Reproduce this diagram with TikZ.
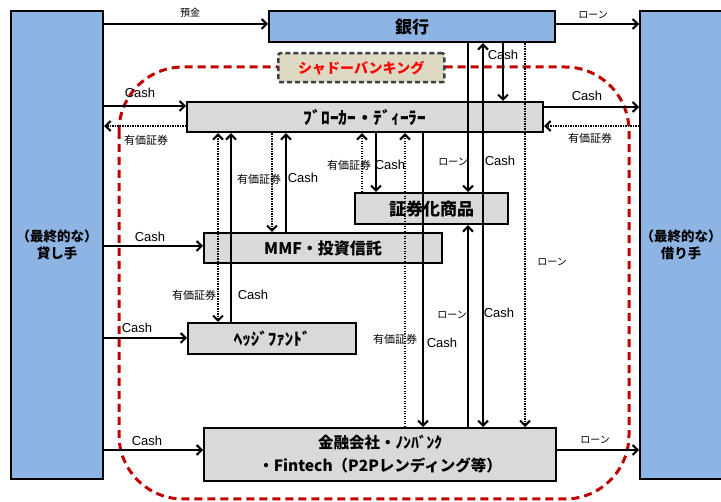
\documentclass[tikz,border=0pt]{standalone}
\usepackage{fontspec}
\setmainfont{Liberation Sans}
\newfontfamily\jp{Noto Sans CJK JP}
\usetikzlibrary{arrows.meta}
\definecolor{blu}{HTML}{8EB4E3}
\definecolor{gry}{HTML}{D9D9D9}
\definecolor{beige}{HTML}{DDD9C3}
\definecolor{dred}{HTML}{C00000}
\definecolor{dgray}{HTML}{404040}
\begin{document}
\begin{tikzpicture}[x=1pt,y=-1pt,
  bluebox/.style={draw=black, line width=2.2pt, fill=blu, anchor=north west, inner sep=0pt, align=center, font=\jp\bfseries\fontsize{13.5}{17}\selectfont},
  graybox/.style={draw=black, line width=2.2pt, fill=gry, anchor=north west, inner sep=0pt, align=center, font=\jp\bfseries\fontsize{16}{19}\selectfont},
  sol/.style={line width=2pt, -{Straight Barb[length=5pt,width=10pt]}},
  dot/.style={line width=2pt, dash pattern=on 1.4pt off 1.1pt, -{Straight Barb[length=5pt,width=10pt]}},
  lab/.style={font=\fontsize{13}{13}\selectfont, inner sep=0pt},
  jlab/.style={font=\jp\fontsize{11}{11}\selectfont, inner sep=0pt},
  jlabs/.style={font=\jp\fontsize{10}{10}\selectfont, inner sep=0pt}
]
\useasboundingbox (0,0) rectangle (721,502);
% shadow banking frame
\draw[dred, line width=3pt, dash pattern=on 8pt off 5pt, rounded corners=64pt] (119,67) rectangle (629,499);
\node[draw=dgray, line width=2.5pt, dash pattern=on 5pt off 3pt, rounded corners=2pt, fill=beige, anchor=north west, minimum width=166pt, minimum height=29pt, inner sep=0pt, text=red, font=\jp\bfseries\fontsize{14}{14}\selectfont] (sb) at (277,52) {シャドーバンキング};

% boxes
\node[bluebox, minimum width=92pt, minimum height=468pt] (lender) at (10,10) {（最終的な）\\貸し手};
\node[bluebox, minimum width=82pt, minimum height=468pt] (borrower) at (639,10) {（最終的な）\\借り手};
\node[bluebox, minimum width=286pt, minimum height=31pt, font=\jp\bfseries\fontsize{17}{17}\selectfont] (bank) at (268,10) {銀行};
\node[graybox, minimum width=356pt, minimum height=30pt, font=\jp\bfseries\fontsize{17.5}{19}\selectfont] (broker) at (186,101) {ﾌﾞﾛｰｶｰ・ﾃﾞｨｰﾗｰ};
\node[graybox, minimum width=153pt, minimum height=31pt, font=\jp\bfseries\fontsize{17}{19}\selectfont] (sec) at (354,192) {証券化商品};
\node[graybox, minimum width=238pt, minimum height=30pt] (mmf) at (203,232) {MMF・投資信託};
\node[graybox, minimum width=168pt, minimum height=31pt, font=\jp\bfseries\fontsize{17}{19}\selectfont] (hedge) at (187,322) {ﾍｯｼﾞﾌｧﾝﾄﾞ};
\node[graybox, minimum width=352pt, minimum height=53pt, font=\jp\bfseries\fontsize{15.5}{23}\selectfont] (fin) at (203,427) {金融会社・ﾉﾝﾊﾞﾝｸ\\・Fintech（P2Pレンディング等）};

% horizontal connectors
\draw[sol] (lender.east |- 0,24) -- (bank.west |- 0,24);
\draw[sol] (bank.east |- 0,24) -- (borrower.west |- 0,24);
\draw[sol] (lender.east |- 0,106) -- (broker.west |- 0,106);
\draw[dot] (broker.west |- 0,126) -- (lender.east |- 0,126);
\draw[sol] (broker.east |- 0,107) -- (borrower.west |- 0,107);
\draw[dot] (borrower.west |- 0,126) -- (broker.east |- 0,126);
\draw[sol] (lender.east |- 0,246) -- (mmf.west |- 0,246);
\draw[sol] (lender.east |- 0,338) -- (hedge.west |- 0,338);
\draw[sol] (lender.east |- 0,450) -- (fin.west |- 0,450);
\draw[sol] (fin.east |- 0,450) -- (borrower.west |- 0,450);

% vertical connectors
\draw[dot, {Straight Barb[length=5pt,width=10pt]}-{Straight Barb[length=5pt,width=10pt]}] (broker.south -| 218,0) -- (hedge.north -| 218,0);
\draw[sol] (hedge.north -| 231,0) -- (broker.south -| 231,0);
\draw[dot] (broker.south -| 272,0) -- (mmf.north -| 272,0);
\draw[sol] (mmf.north -| 286,0) -- (broker.south -| 286,0);
\draw[dot] (sec.north -| 362,0) -- (broker.south -| 362,0);
\draw[sol] (broker.south -| 376,0) -- (sec.north -| 376,0);
\draw[dot] (fin.north -| 405,0) -- (broker.south -| 405,0);
\draw[sol] (broker.south -| 423,0) -- (fin.north -| 423,0);
\draw[sol] (bank.south -| 468,0) -- (sec.north -| 468,0);
\draw[sol] (fin.north -| 468,0) -- (sec.south -| 468,0);
\draw[sol, {Straight Barb[length=5pt,width=10pt]}-{Straight Barb[length=5pt,width=10pt]}] (bank.south -| 483,0) -- (fin.north -| 483,0);
\draw[sol] (bank.south -| 503,0) -- (broker.north -| 503,0);
\draw[dot] (bank.south -| 525,0) -- (fin.north -| 525,0);

% labels
\node[jlabs] (l1) at (190,13) {預金};
\node[jlabs] (l2) at (593,15) {ローン};
\node[lab] (l3) at (140,93) {Cash};
\node[jlab] (l4) at (146,140) {有価証券};
\node[lab] (l5) at (587,96) {Cash};
\node[jlab] (l6) at (590,138) {有価証券};
\node[lab] (l7) at (150,237) {Cash};
\node[lab] (l8) at (137,328) {Cash};
\node[lab] (l9) at (147,441) {Cash};
\node[jlabs] (l10) at (595,440) {ローン};
\node[lab] (l11) at (503,55) {Cash};
\node[jlabs] (l12) at (453,162) {ローン};
\node[lab] (l13) at (500,161) {Cash};
\node[jlabs] (l14) at (552,262) {ローン};
\node[jlabs] (l15) at (452,315) {ローン};
\node[lab] (l16) at (499,313) {Cash};
\node[jlab] (l17) at (395,339) {有価証券};
\node[lab] (l18) at (442,343) {Cash};
\node[jlab] (l19) at (349,165) {有価証券};
\node[lab] (l20) at (390,165) {Cash};
\node[jlab] (l21) at (259,179) {有価証券};
\node[lab] (l22) at (303,178) {Cash};
\node[jlab] (l23) at (194,295) {有価証券};
\node[lab] (l24) at (253,295) {Cash};
\end{tikzpicture}
\end{document}
